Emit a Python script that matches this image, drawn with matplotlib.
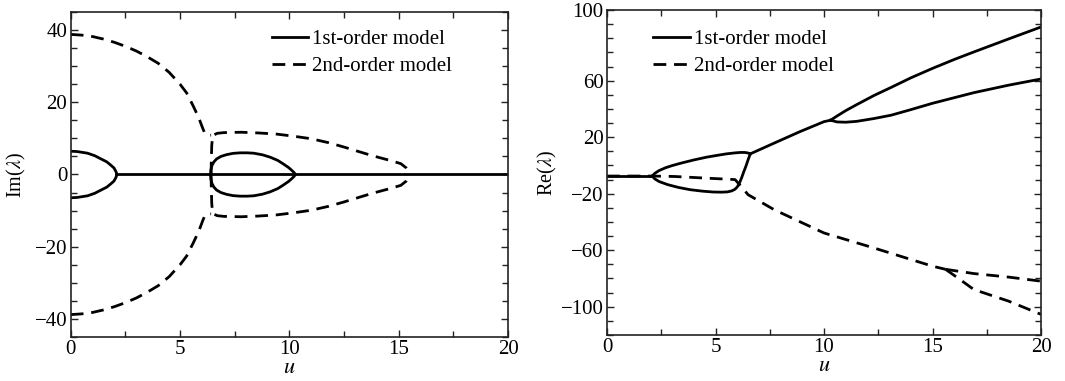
import numpy as np
import matplotlib
matplotlib.use('Agg')
import matplotlib.pyplot as plt
from matplotlib.ticker import MultipleLocator

plt.rcParams['font.family'] = ['Liberation Serif', 'DejaVu Serif']
plt.rcParams['mathtext.fontset'] = 'stix'

# ---- Im(lambda), 1st-order model (solid) ----
im1_loop1_u = [0.0, 0.3, 0.77, 1.1, 1.39, 1.65, 1.85, 1.98, 2.06, 2.09, 2.1]
im1_loop1 = [6.45, 6.35, 5.9, 5.2, 4.3, 3.5, 2.5, 1.8, 0.9, 0.5, 0.0]
im1_loop2_u = [6.4, 6.41, 6.46, 6.55, 6.67, 6.87, 7.13, 7.42, 7.75, 8.07, 8.37, 8.77,
               9.12, 9.47, 9.73, 9.97, 10.12, 10.22, 10.27]
im1_loop2 = [0.0, 1.2, 2.5, 3.5, 4.3, 5.0, 5.5, 5.85, 6.0, 6.0, 5.9, 5.45,
             4.8, 3.9, 2.9, 1.9, 1.1, 0.5, 0.0]
im1_zero_u = [2.1, 20.0]
im1_zero = [0.0, 0.0]

# ---- Im(lambda), 2nd-order model (dashed) ----
im2_a_u = [0.0, 0.5, 1.0, 1.5, 2.0, 2.5, 3.0, 3.5, 4.0, 4.5, 5.0, 5.3, 5.6, 5.85, 6.05, 6.15, 6.3, 6.42]
im2_a = [38.8, 38.6, 38.2, 37.5, 36.6, 35.5, 34.2, 32.6, 30.8, 28.3, 25.0, 22.6, 19.0, 15.8, 12.6, 11.2, 10.9, 10.9]
im2_b_u = [6.42, 6.43, 6.45, 6.49, 6.7, 7.0, 7.8, 8.6, 9.4, 10.2, 11.0, 11.8, 12.5, 13.2, 13.8, 14.6, 15.1, 15.35, 15.55]
im2_b = [0.0, 4.0, 8.0, 10.8, 11.4, 11.6, 11.7, 11.5, 11.2, 10.6, 9.9, 8.8, 7.6, 6.3, 5.2, 3.9, 3.0, 1.8, 0.0]

# ---- Re(lambda), 1st-order model (solid) ----
re1_flat_u = [0.0, 2.08]
re1_flat = [-7.5, -7.5]
re1_up_u = [2.08, 2.2, 2.4, 2.7, 3.0, 3.4, 4.0, 4.6, 5.1, 5.5, 5.9, 6.15, 6.35, 6.5, 6.6]
re1_up = [-7.5, -5.6, -3.6, -1.6, -0.1, 1.6, 3.9, 5.9, 7.2, 8.2, 8.9, 9.2, 9.2, 8.8, 8.2]
re1_lo_u = [2.08, 2.2, 2.4, 2.8, 3.3, 3.85, 4.4, 4.9, 5.3, 5.55, 5.75, 5.9, 6.0, 6.1, 6.2, 6.3, 6.4, 6.5, 6.6]
re1_lo = [-7.5, -9.5, -11.4, -13.6, -15.6, -17.2, -18.2, -18.8, -18.9, -18.7, -18.0, -16.8, -15.2, -12.5, -8.8, -4.5, -0.5, 4.0, 8.2]
re1_mid_u = [6.6, 7.7, 8.9, 10.0, 10.3]
re1_mid = [8.2, 15.8, 24.0, 31.0, 32.0]
re1_hi_u = [10.3, 10.6, 11.0, 11.5, 12.3, 13.1, 14.0, 15.0, 16.0, 16.9, 18.5, 20.0]
re1_hi = [32.0, 35.0, 38.8, 43.0, 49.5, 55.3, 62.0, 68.7, 75.0, 80.3, 89.5, 98.0]
re1_low_u = [10.3, 10.6, 11.0, 11.5, 12.3, 13.1, 14.0, 15.0, 16.9, 18.5, 20.0]
re1_low = [32.0, 30.8, 30.6, 31.2, 33.2, 35.6, 39.5, 44.0, 51.5, 56.8, 61.2]

# ---- Re(lambda), 2nd-order model (dashed) ----
re2_main_u = [0.0, 2.08, 3.1, 4.6, 5.9, 6.1, 6.5, 7.7, 10.0, 12.3, 15.0, 15.6]
re2_main = [-7.5, -7.5, -7.8, -9.0, -10.0, -13.5, -20.7, -31.3, -47.8, -58.4, -71.3, -73.5]
re2_hi_u = [15.6, 16.9, 18.5, 20.0]
re2_hi = [-73.5, -76.5, -79.0, -81.9]
re2_lo_u = [15.6, 16.2, 16.9, 18.5, 20.0]
re2_lo = [-73.5, -80.0, -87.8, -96.0, -105.4]

re_ticks = [-100, -60, -20, 20, 60, 110]
re_ticklabels = ['\u2212100', '\u221260', '\u221220', '20', '60', '100']

lw = 2.0
dash = (0, (4.6, 2.8))
col = 'black'

fig = plt.figure(figsize=(10.65, 3.81), dpi=100)
ax1 = fig.add_axes([0.0664, 0.1155, 0.4106, 0.853])
ax2 = fig.add_axes([0.570, 0.1207, 0.4075, 0.853])

# left panel
ax1.plot(im1_loop1_u, im1_loop1, color=col, lw=lw, label='1st-order model')
ax1.plot(im1_loop1_u, -np.array(im1_loop1), color=col, lw=lw)
ax1.plot(im1_loop2_u, im1_loop2, color=col, lw=lw)
ax1.plot(im1_loop2_u, -np.array(im1_loop2), color=col, lw=lw)
ax1.plot(im1_zero_u, im1_zero, color=col, lw=lw)
ax1.plot(im2_a_u, im2_a, color=col, lw=lw, ls=dash, label='2nd-order model')
ax1.plot(im2_a_u, -np.array(im2_a), color=col, lw=lw, ls=dash)
ax1.plot(im2_b_u, im2_b, color=col, lw=lw, ls=dash)
ax1.plot(im2_b_u, -np.array(im2_b), color=col, lw=lw, ls=dash)
ax1.set_xlim(0, 20)
ax1.set_ylim(-45, 45)
ax1.set_yticks([-40, -20, 0, 20, 40])
ax1.yaxis.set_minor_locator(MultipleLocator(5))
ax1.set_ylabel(r'Im($\lambda$)', fontsize=14.5, labelpad=5)

# right panel
ax2.plot(re1_flat_u, re1_flat, color=col, lw=lw, label='1st-order model')
ax2.plot(re2_main_u, re2_main, color=col, lw=lw, ls=dash, label='2nd-order model')
ax2.plot(re2_hi_u, re2_hi, color=col, lw=lw, ls=dash)
ax2.plot(re2_lo_u, re2_lo, color=col, lw=lw, ls=dash)
for uu, vv in [(re1_up_u, re1_up), (re1_lo_u, re1_lo), (re1_mid_u, re1_mid),
               (re1_hi_u, re1_hi), (re1_low_u, re1_low)]:
    ax2.plot(uu, vv, color=col, lw=lw)
ax2.set_xlim(0, 20)
ax2.set_ylim(-120, 110)
ax2.set_yticks(re_ticks)
ax2.set_yticklabels(re_ticklabels)
ax2.yaxis.set_minor_locator(MultipleLocator(10))
ax2.set_ylabel(r'Re($\lambda$)', fontsize=14.5, labelpad=1)

for ax in (ax1, ax2):
    ax.set_xticks([0, 5, 10, 15, 20])
    ax.xaxis.set_minor_locator(MultipleLocator(2.5))
    ax.tick_params(which='both', direction='in', top=True, right=True,
                   labelsize=15, width=1.0, color='#222222')
    ax.tick_params(which='major', length=5, pad=2.5)
    ax.tick_params(which='minor', length=4)
    for sp in ax.spines.values():
        sp.set_linewidth(1.2)
        sp.set_color('#222222')
    ax.set_xlabel(r'$u$', fontsize=16, labelpad=0)

ax1.legend(loc='upper left', bbox_to_anchor=(0.46, 0.945), frameon=False,
           fontsize=15, handlelength=1.75, handletextpad=0.2,
           labelspacing=0.35, borderpad=0, borderaxespad=0)
ax2.legend(loc='upper left', bbox_to_anchor=(0.106, 0.94), frameon=False,
           fontsize=15, handlelength=1.75, handletextpad=0.2,
           labelspacing=0.35, borderpad=0, borderaxespad=0)

fig.savefig('out.png', dpi=100)
